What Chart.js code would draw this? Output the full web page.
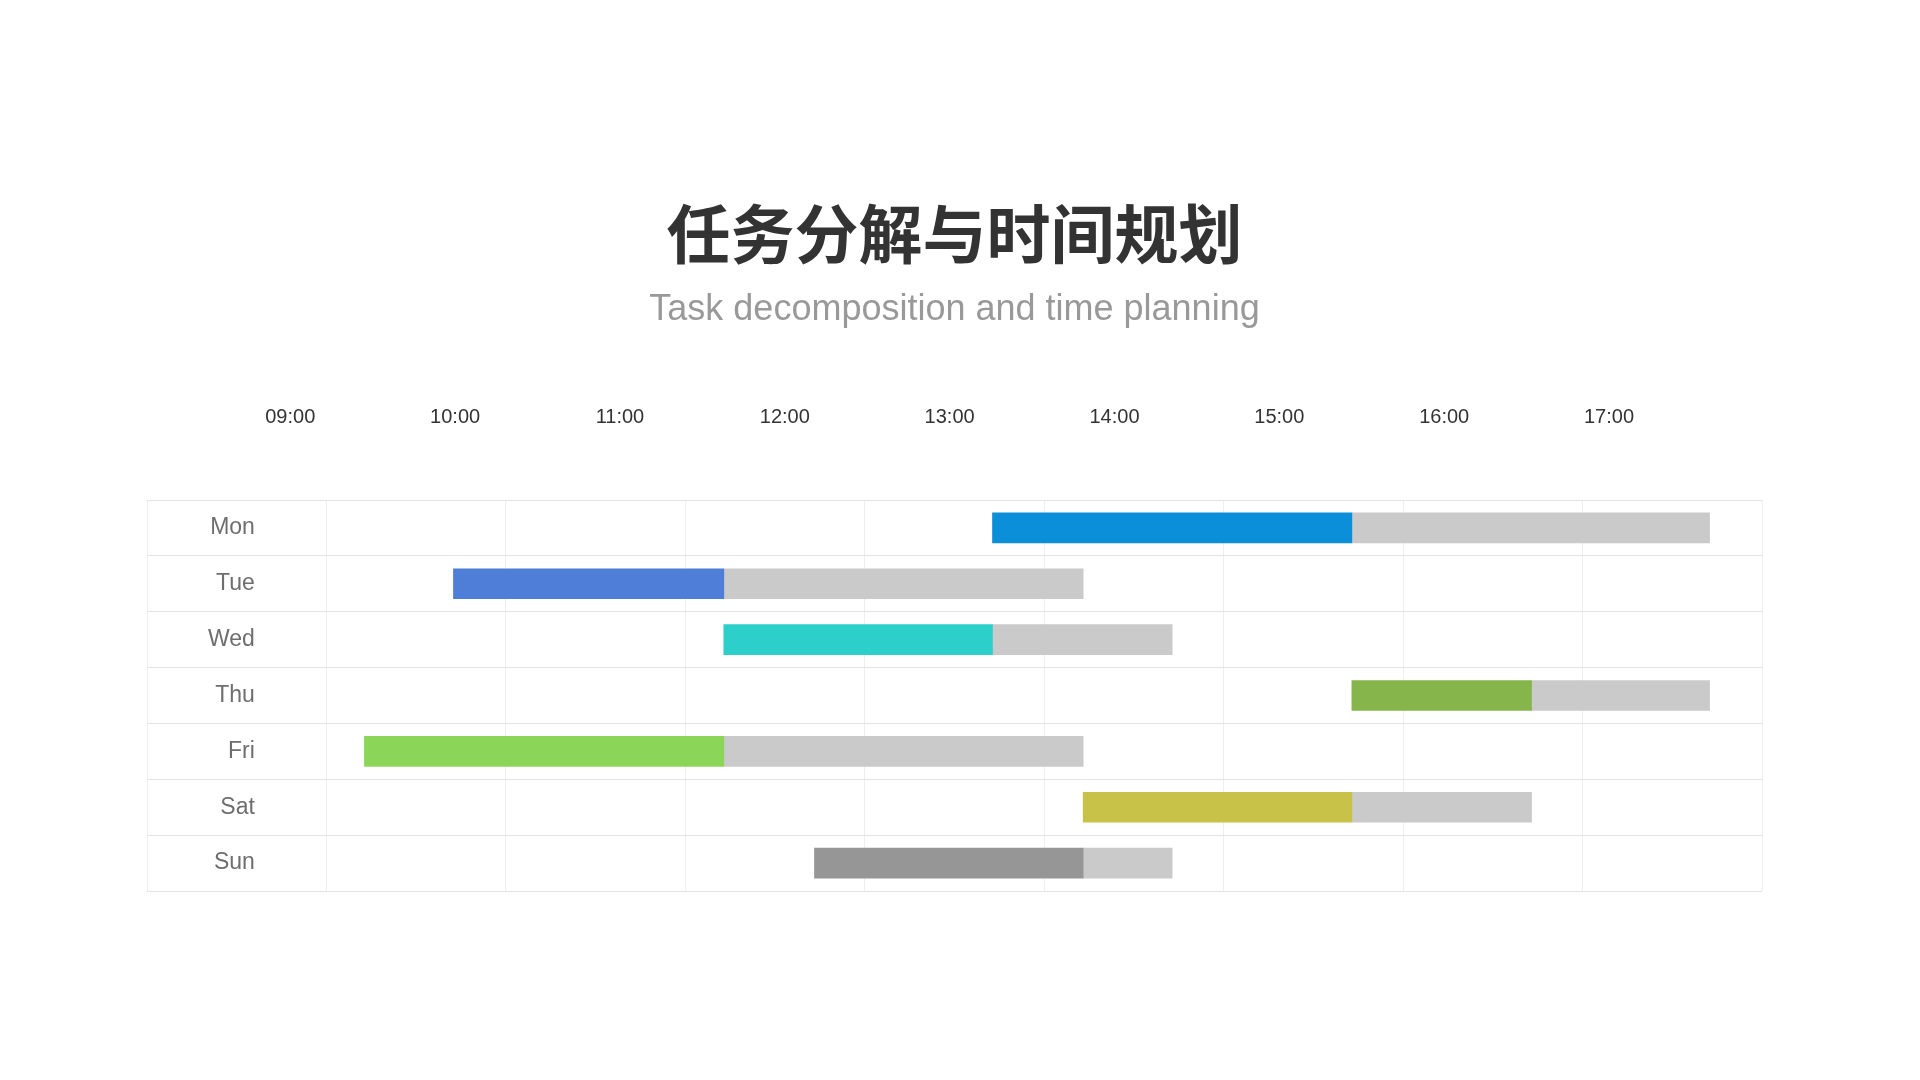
<!DOCTYPE html>
<html>
<head>
<meta charset="utf-8">
<script src="https://cdn.jsdelivr.net/npm/chart.js@4/dist/chart.umd.min.js"></script>
<style>
  html, body { margin: 0; padding: 0; background: #ffffff; }
  #c { display: block; }
</style>
</head>
<body>
<canvas id="c" width="1920" height="1080"></canvas>
<script>
// ---- data (hours of day) ----
const titleText = '任务分解与时间规划';
const subtitleText = 'Task decomposition and time planning';
const days = ['Mon', 'Tue', 'Wed', 'Thu', 'Fri', 'Sat', 'Sun'];
const startHours = [13.26, 9.99, 11.63, 15.44, 9.45, 13.81, 12.18];
const doneHours  = [15.44, 11.63, 13.26, 16.53, 11.63, 15.44, 13.81];
const endHours   = [17.61, 13.81, 14.35, 17.61, 13.81, 16.53, 14.35];
const hourTicks  = [9, 10, 11, 12, 13, 14, 15, 16, 17];
const dayColors  = ['#0a8fd8', '#4f7ed8', '#2dcfca', '#85b54b', '#8bd658', '#c8c348', '#969696'];
const restColor  = '#cacaca';

const doneData = days.map((d, i) => [startHours[i], doneHours[i]]);
const restData = days.map((d, i) => [doneHours[i], endHours[i]]);

Chart.defaults.font.family = '"Liberation Sans", Arial, sans-serif';

const TICK_FONT = 20;
const TICK_PAD = 71;

new Chart(document.getElementById('c'), {
  type: 'bar',
  data: {
    labels: days,
    datasets: [
      {
        label: 'done',
        data: doneData,
        backgroundColor: dayColors,
        borderWidth: 0,
        borderSkipped: false,
        grouped: false,
        barThickness: 30,
        xAxisID: 'x',
        order: 0
      },
      {
        label: 'remaining',
        data: restData,
        backgroundColor: restColor,
        borderWidth: 0,
        borderSkipped: false,
        grouped: false,
        barThickness: 30,
        xAxisID: 'x',
        order: 1
      }
    ]
  },
  options: {
    indexAxis: 'y',
    responsive: false,
    animation: false,
    layout: { padding: { left: 147, right: 158, top: 0, bottom: 189 } },
    plugins: {
      legend: { display: false },
      tooltip: { enabled: false },
      title: {
        display: true,
        text: titleText,
        color: '#333333',
        font: { family: '"Noto Sans CJK SC", sans-serif', size: 64, weight: 'bold' },
        padding: { top: 195, bottom: 0 }
      },
      subtitle: {
        display: true,
        text: subtitleText,
        color: '#999999',
        font: { size: 36 },
        padding: { top: 17, bottom: 73 }
      }
    },
    scales: {
      x: {
        type: 'linear',
        position: 'top',
        min: 8.131,
        max: 17.928,
        afterBuildTicks: (axis) => { axis.ticks = hourTicks.map(v => ({ value: v })); },
        afterFit: (s) => { s.height = TICK_PAD + TICK_FONT * 1.2; },
        grid: { display: false, drawTicks: false },
        border: { display: false },
        ticks: {
          autoSkip: false,
          maxRotation: 0,
          padding: TICK_PAD,
          color: '#333333',
          font: { size: TICK_FONT },
          callback: (v) => (v < 10 ? '0' : '') + v + ':00'
        }
      },
      xg: {
        type: 'linear',
        position: 'bottom',
        min: -1,
        max: 8,
        afterFit: (s) => { s.height = 0; },
        ticks: { display: false, stepSize: 1 },
        grid: { color: '#eeeeee', lineWidth: 1, drawTicks: false },
        border: { display: false }
      },
      y: {
        type: 'category',
        position: 'left',
        offset: true,
        afterFit: (s) => { s.width = 0; },
        grid: { color: '#e3e3e3', lineWidth: 1, drawTicks: false, offset: true },
        border: { display: false },
        ticks: {
          mirror: true,
          crossAlign: 'far',
          padding: 61,
          color: '#6e6e6e',
          font: { size: 23 }
        }
      }
    }
  }
});
</script>
</body>
</html>
